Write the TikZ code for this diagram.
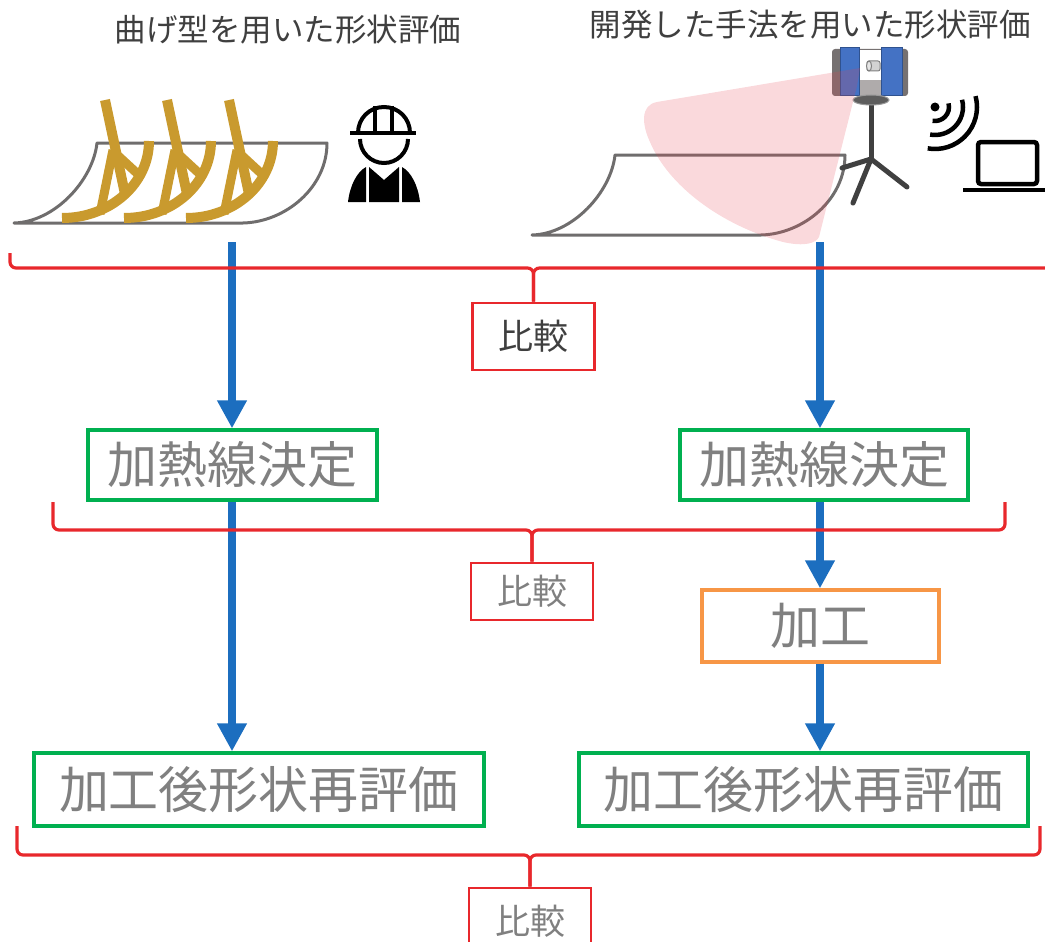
\documentclass[tikz,border=0pt]{standalone}
\usepackage{fontspec}
\setmainfont{Noto Sans CJK JP}
\usetikzlibrary{arrows.meta}

\definecolor{txtgray}{HTML}{808080}
\definecolor{txtdark}{HTML}{3F3F3F}
\definecolor{boxgreen}{HTML}{00B050}
\definecolor{cmpred}{HTML}{E8282C}
\definecolor{procorange}{HTML}{F79646}
\definecolor{flowblue}{HTML}{1C6EBF}
\definecolor{plategray}{HTML}{6F6D6D}
\definecolor{goldbar}{HTML}{C99A2E}
\definecolor{scanblue}{HTML}{4472C4}
\definecolor{scanedge}{HTML}{2F528F}
\definecolor{bodygray}{HTML}{767171}
\definecolor{midgray}{HTML}{AFABAB}
\definecolor{tripodgray}{HTML}{404040}
\definecolor{conepink}{HTML}{E6404E}

% curved steel plate outline
\newcommand\drawplate{%
  \draw[draw=plategray, line width=3pt, line join=round]
    (97,143) -- (327,143) .. controls (327,188) and (285,222) .. (243,223)
    -- (14,223) .. controls (55,222) and (93,180) .. (97,143) -- cycle;}
% one bending template frame
\newcommand\drawtemplate{%
  \draw[goldbar, line width=10pt] (62,218) .. controls (110,218) and (149,184) .. (149,141);
  \draw[goldbar, line width=10pt] (105,100) -- (125,194);
  \draw[goldbar, line width=9pt] (113,150) -- (100,214);
  \draw[goldbar, line width=9pt] (114,152) -- (140,176);}

\tikzset{
  boxbase/.style={draw, line width=3.2pt, inner sep=0pt, text=txtgray},
  stepgreen/.style={boxbase, draw=boxgreen, minimum height=70pt, font=\fontsize{50}{60}\selectfont},
  steporange/.style={boxbase, draw=procorange, minimum height=72pt, font=\fontsize{50}{60}\selectfont},
  cmpbox/.style={boxbase, draw=cmpred, line width=2.8pt, minimum width=122pt, font=\fontsize{35}{42}\selectfont},
  brace/.style={draw=cmpred, line width=3.2pt, rounded corners=6pt},
  flow/.style={draw=flowblue, line width=8pt, -{Triangle[width=28pt,length=28pt]}},
  titletext/.style={text=txtdark, inner sep=0pt, font=\fontsize{31.5}{38}\selectfont},
}

\begin{document}
\begin{tikzpicture}[x=1pt,y=1pt,yscale=-1]
\useasboundingbox (0,0) rectangle (1045,942);

% ---------- headings ----------
\node[titletext] (titleL) at (288,30) {曲げ型を用いた形状評価};
\node[titletext] (titleR) at (810,25) {開発した手法を用いた形状評価};

% ---------- left: bending templates on the plate ----------
\drawplate
\drawtemplate
\begin{scope}[shift={(62,0)}]\drawtemplate\end{scope}
\begin{scope}[shift={(124,0)}]\drawtemplate\end{scope}

% worker
\begin{scope}[line width=4pt]
  \draw (358,133) .. controls (358,118.6) and (369.2,107) .. (384,107)
        .. controls (398.8,107) and (410,118.6) .. (410,133);
  \draw (350,133) -- (416,133);
  \draw (375,106) -- (375,133);
  \draw (392,106) -- (392,133);
  \draw (360,139) .. controls (360,152.2) and (370.8,163) .. (384,163)
        .. controls (397.2,163) and (408,152.2) .. (408,139);
\end{scope}
\fill (348,202) .. controls (350,185) and (357,172) .. (366,167) -- (366,202) -- cycle;
\fill (420,202) .. controls (418,185) and (411,172) .. (402,167) -- (402,202) -- cycle;
\fill (369,167) -- (384,180) -- (399,167) -- (399,202) -- (369,202) -- cycle;

% ---------- right: scanner on a tripod ----------
\begin{scope}[shift={(518,12)}]\drawplate\end{scope}

\draw[tripodgray, line width=5pt, line cap=round] (871,104) -- (871,159);
\draw[tripodgray, line width=5pt, line cap=round] (871,159) -- (842,168);
\draw[tripodgray, line width=5pt, line cap=round] (871,159) -- (853,203);
\draw[tripodgray, line width=5pt, line cap=round] (871,159) -- (907,187);
\fill[bodygray, rounded corners=3pt] (832,49) rectangle (908,96);
\fill[white] (858,50) rectangle (882,80);
\fill[midgray] (858,80) rectangle (882,96);
\draw[gray, fill=gray!35, line width=1pt, rounded corners=2pt] (867,61) rectangle (880,71);
\draw[gray, fill=gray!20, line width=1pt] (869,66) ellipse (2.5 and 5);
\draw[scanedge, fill=scanblue, line width=1pt] (840,48) rectangle (859,96);
\draw[scanedge, fill=scanblue, line width=1pt] (881,48) rectangle (902,96);
\draw[gray!80, fill=tripodgray!85, line width=1pt] (871,100) ellipse (18 and 5);

% scan field
\fill[conepink, fill opacity=0.2]
  (860,68) -- (657,102) .. controls (640,105) and (642,125) .. (650,142)
  .. controls (668,185) and (720,225) .. (783,242)
  .. controls (805,247) and (816,243) .. (819,237) -- (857,86) -- cycle;

% wireless link and laptop
\fill (935,107) circle (4.5);
\begin{scope}[line width=4.5pt]
  \draw (935,107) ++(-15:14) arc[start angle=-15, end angle=100, radius=14];
  \draw (935,107) ++(-15:28) arc[start angle=-15, end angle=100, radius=28];
  \draw (935,107) ++(-15:42) arc[start angle=-15, end angle=100, radius=42];
  \draw[rounded corners=3pt] (978,142) rectangle (1037,184);
  \draw (963,190) -- (1050,190);
\end{scope}

% ---------- process boxes ----------
\node[cmpbox, minimum height=67pt, text=txtdark] (cmp1) at (533.5,336.5) {比較};
\node[stepgreen, minimum width=289pt] (heatL) at (232.5,465) {加熱線決定};
\node[stepgreen, minimum width=288pt] (heatR) at (824,465) {加熱線決定};
\node[cmpbox, minimum height=57pt] (cmp2) at (532,591.5) {比較};
\node[steporange, minimum width=237pt] (proc) at (820.5,626) {加工};
\node[stepgreen, minimum width=450pt, minimum height=73pt] (evalL) at (259,789.5) {加工後形状再評価};
\node[stepgreen, minimum width=449pt, minimum height=73pt] (evalR) at (803.5,789.5) {加工後形状再評価};
\node[cmpbox, minimum height=66pt] (cmp3) at (530,921) {比較};

% ---------- flow arrows ----------
\coordinate (srcL) at (232,242);
\coordinate (srcR) at (820,242);
\draw[flow] (srcL) -- (srcL |- heatL.north);
\draw[flow] (srcR) -- (srcR |- heatR.north);
\draw[flow] (srcL |- heatL.south) -- (srcL |- evalL.north);
\draw[flow] (srcR |- heatR.south) -- (srcR |- proc.north);
\draw[flow] (srcR |- proc.south) -- (srcR |- evalR.north);

% ---------- comparison braces ----------
\coordinate (b1c) at (533.5,268);
\draw[brace] (10,253) -- (10,268) -- (b1c) -- (cmp1.north);
\draw[brace] (1060,268) -- (b1c) -- (cmp1.north);

\coordinate (b2c) at (532,530);
\draw[brace] (53,502) -- (53,530) -- (b2c) -- (cmp2.north);
\draw[brace] (1005,502) -- (1005,530) -- (b2c) -- (cmp2.north);

\coordinate (b3c) at (530,855);
\draw[brace] (17,826) -- (17,855) -- (b3c) -- (cmp3.north);
\draw[brace] (1040,826) -- (1040,855) -- (b3c) -- (cmp3.north);
\end{tikzpicture}
\end{document}
